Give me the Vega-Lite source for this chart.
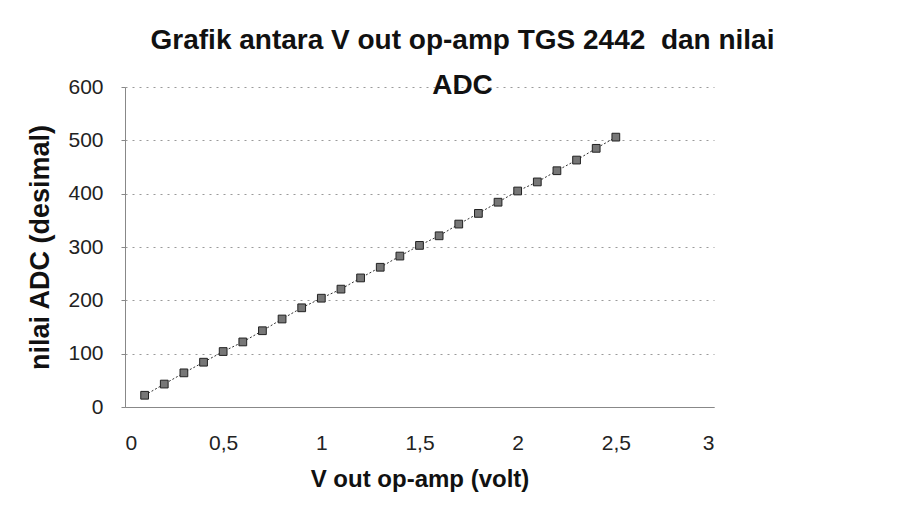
{
  "$schema": "https://vega.github.io/schema/vega-lite/v6.json",
  "width": 589,
  "height": 320,
  "autosize": {"type": "none"},
  "padding": {"left": 125, "top": 87, "right": 192, "bottom": 105},
  "background": "white",
  "title": {
    "text": ["Grafik antara V out op-amp TGS 2442\u00a0 dan nilai", "ADC"],
    "font": "Liberation Sans",
    "fontSize": 28,
    "fontWeight": "bold",
    "color": "#111",
    "lineHeight": 45,
    "anchor": "middle",
    "dx": 43,
    "offset": -24
  },
  "config": {
    "view": {"stroke": null},
    "axis": {
      "labelFont": "Liberation Sans",
      "titleFont": "Liberation Sans",
      "labelColor": "#222",
      "titleColor": "#111",
      "domainColor": "#888",
      "domainWidth": 1,
      "tickColor": "#888"
    }
  },
  "data": {
    "values": [
      {"v": 0.1, "adc": 22}, {"v": 0.2, "adc": 43}, {"v": 0.3, "adc": 64},
      {"v": 0.4, "adc": 84}, {"v": 0.5, "adc": 104}, {"v": 0.6, "adc": 122},
      {"v": 0.7, "adc": 143}, {"v": 0.8, "adc": 165}, {"v": 0.9, "adc": 186},
      {"v": 1.0, "adc": 204}, {"v": 1.1, "adc": 221}, {"v": 1.2, "adc": 242},
      {"v": 1.3, "adc": 262}, {"v": 1.4, "adc": 283}, {"v": 1.5, "adc": 303},
      {"v": 1.6, "adc": 321}, {"v": 1.7, "adc": 343}, {"v": 1.8, "adc": 363},
      {"v": 1.9, "adc": 384}, {"v": 2.0, "adc": 405}, {"v": 2.1, "adc": 422},
      {"v": 2.2, "adc": 443}, {"v": 2.3, "adc": 463}, {"v": 2.4, "adc": 485},
      {"v": 2.5, "adc": 506}
    ]
  },
  "encoding": {
    "x": {
      "field": "v",
      "type": "quantitative",
      "scale": {"domain": [0, 3], "nice": false, "zero": true},
      "axis": {
        "values": [0, 0.5, 1, 1.5, 2, 2.5, 3],
        "format": "~g",
        "labelExpr": "replace(datum.label, '.', ',')",
        "grid": false,
        "ticks": false,
        "labelFontSize": 21,
        "labelPadding": 25,
        "title": "V out op-amp (volt)",
        "titleFontSize": 24,
        "titleFontWeight": "bold",
        "titlePadding": 14
      }
    },
    "y": {
      "field": "adc",
      "type": "quantitative",
      "scale": {"domain": [0, 600], "nice": false},
      "axis": {
        "values": [0, 100, 200, 300, 400, 500, 600],
        "grid": true,
        "gridColor": "#9a9a9a",
        "gridDash": [2, 5],
        "gridWidth": 1,
        "ticks": true,
        "tickSize": 4,
        "labelFontSize": 21,
        "labelPadding": 18,
        "title": "nilai ADC (desimal)",
        "titleFontSize": 27,
        "titleFontWeight": "bold",
        "titleAngle": -90,
        "titleX": -85,
        "titleY": 160,
        "titleAlign": "center",
        "titleBaseline": "middle"
      }
    }
  },
  "layer": [
    {
      "mark": {"type": "line", "color": "#333", "strokeWidth": 1, "strokeDash": [2, 2]}
    },
    {
      "mark": {"type": "point", "shape": "square", "filled": true, "size": 60, "color": "#777", "stroke": "#222", "strokeWidth": 1, "opacity": 1}
    }
  ]
}
